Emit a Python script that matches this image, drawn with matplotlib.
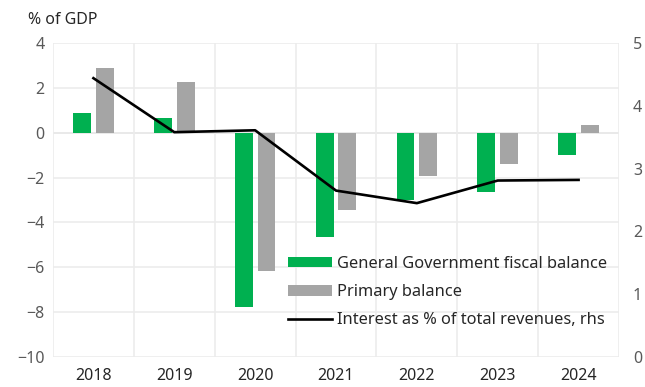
import numpy as np
import matplotlib.pyplot as plt
from matplotlib.ticker import MultipleLocator

plt.rcParams['font.family'] = ['Noto Sans', 'DejaVu Sans']

years = ['2018', '2019', '2020', '2021', '2022', '2023', '2024']
fiscal_balance = [0.87, 0.66, -7.77, -4.64, -3.0, -2.63, -1.0]
primary_balance = [2.87, 2.28, -6.16, -3.45, -1.93, -1.40, 0.33]
interest_rev = [4.44, 3.58, 3.61, 2.65, 2.45, 2.81, 2.82]

green = '#00b050'
grey = '#a5a5a5'
grid_c = '#ececec'

fig = plt.figure(figsize=(6.45, 3.87), dpi=100)
ax = fig.add_axes([53/645, 1 - 357/387, (619 - 53)/645, (357 - 43)/387])
ax2 = ax.twinx()

x = np.arange(len(years))
w = 0.22
ax.bar(x - 0.14, fiscal_balance, w, color=green, label='General Government fiscal balance', zorder=3)
ax.bar(x + 0.14, primary_balance, w, color=grey, label='Primary balance', zorder=3)
ax2.plot(x, interest_rev, color='black', lw=1.9, label='Interest as % of total revenues, rhs')

ax.set_xlim(-0.5, len(years) - 0.5)
ax.set_ylim(-10, 4)
ax.yaxis.set_major_locator(MultipleLocator(2))
ax2.set_ylim(0, 5)
ax2.yaxis.set_major_locator(MultipleLocator(1))

ax.set_xticks(x)
ax.set_xticklabels(years)
ax.set_xticks(np.arange(-0.5, len(years)), minor=True)
ax.grid(axis='y', which='major', color=grid_c, lw=1.2, zorder=0)
ax.grid(axis='x', which='minor', color=grid_c, lw=1.2, zorder=0)
ax.axhline(0, color='#d9d9d9', lw=1.2, zorder=1)

for a in (ax, ax2):
    for s in a.spines.values():
        s.set_visible(False)

ax.tick_params(axis='x', which='both', length=0, labelsize=11.5, labelcolor='#262626', pad=8)
ax.tick_params(axis='y', length=0, labelsize=11.5, labelcolor='#595959', pad=6)
ax2.tick_params(axis='y', length=0, labelsize=11.5, labelcolor='#595959', pad=10)

fig.text(28/645, 1 - 20/387, '% of GDP', fontsize=11.5, color='#262626', va='center', ha='left')

h1, l1 = ax.get_legend_handles_labels()
h2, l2 = ax2.get_legend_handles_labels()
leg = ax2.legend(h1 + h2, l1 + l2, loc='upper left', bbox_to_anchor=(288/645, 1 - 256/387),
                 bbox_transform=fig.transFigure, frameon=False, fontsize=11.8,
                 handlelength=2.7, handleheight=0.6, handletextpad=0.3,
                 labelspacing=0.74, borderpad=0, borderaxespad=0)
for t in leg.get_texts():
    t.set_color('#262626')

fig.savefig('out.png', dpi=100)
